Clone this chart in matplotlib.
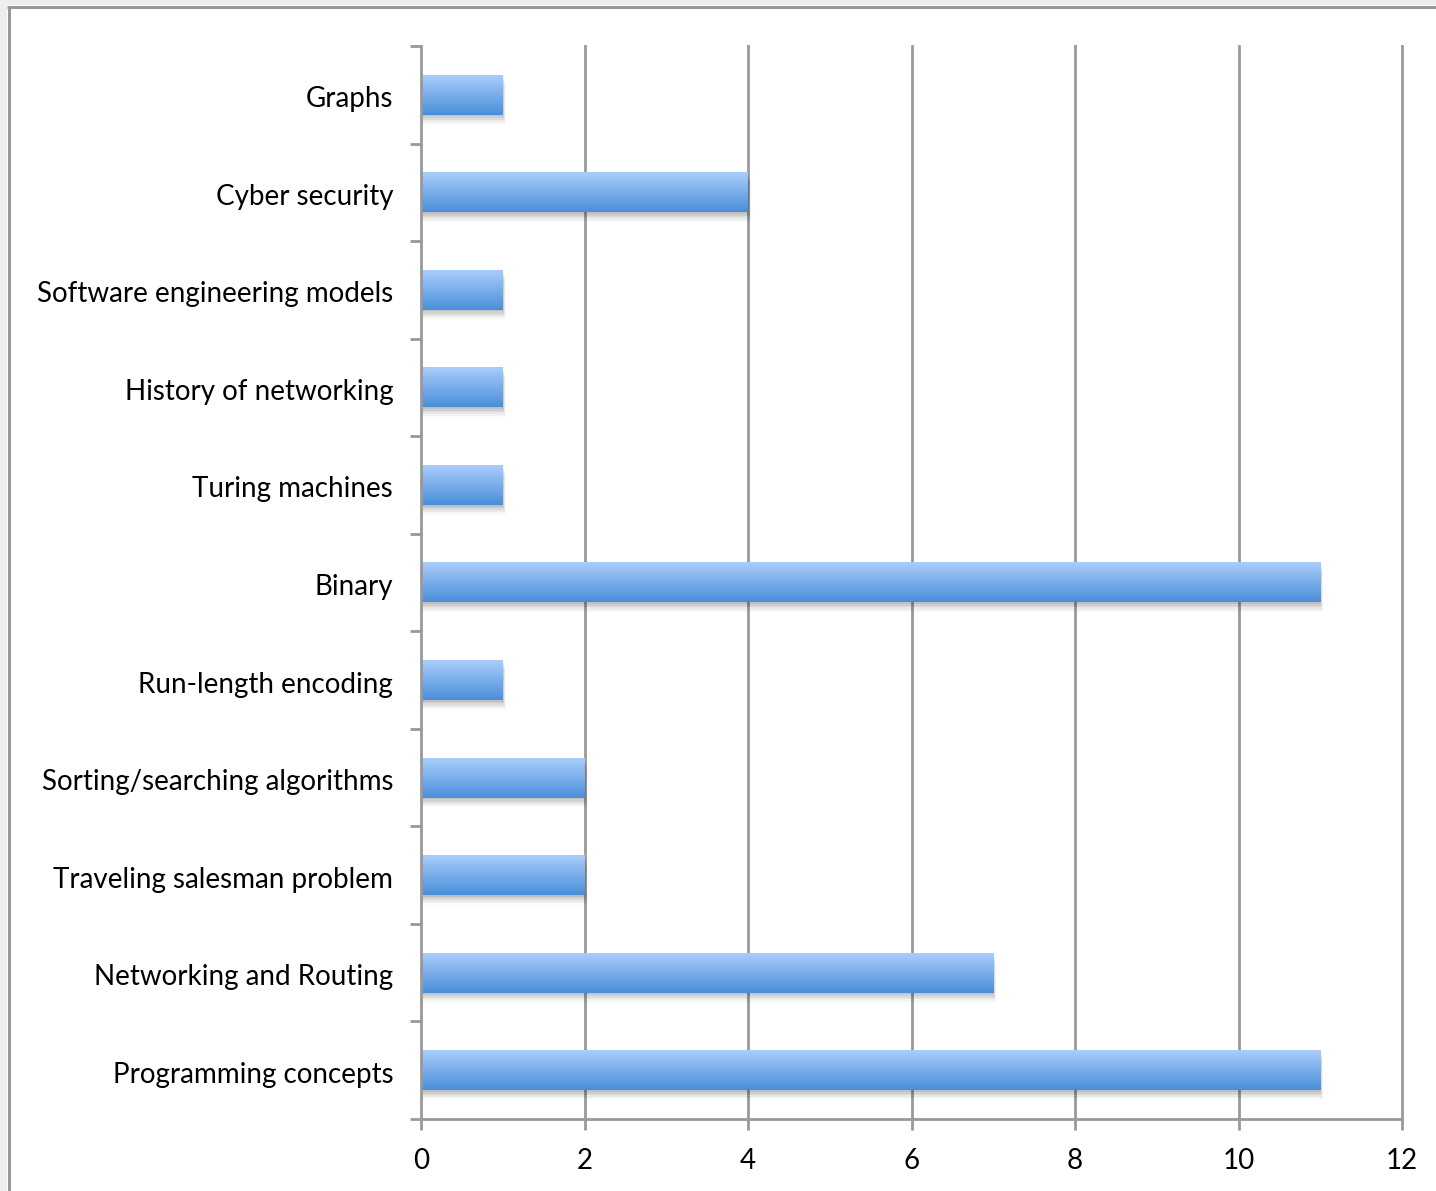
import matplotlib
matplotlib.use("Agg")
import matplotlib.pyplot as plt
import matplotlib.transforms as mtransforms
import numpy as np
from matplotlib.patches import Rectangle
from matplotlib.colors import LinearSegmentedColormap

# data (top to bottom as in the chart)
topics = [
    "Graphs",
    "Cyber security",
    "Software engineering models",
    "History of networking",
    "Turing machines",
    "Binary",
    "Run-length encoding",
    "Sorting/searching algorithms",
    "Traveling salesman problem",
    "Networking and Routing",
    "Programming concepts",
]
counts = [1, 4, 1, 1, 1, 11, 1, 2, 2, 7, 11]
x_ticks = [0, 2, 4, 6, 8, 10, 12]

GRID = "#999999"
BAR_H = 0.41
LW = 2.0

plt.rcParams["font.family"] = ["Lato", "DejaVu Sans"]

fig = plt.figure(figsize=(14.36, 11.91), dpi=100)
fig.patch.set_facecolor("#eeeeee")

# white chart area with grey border on top/left, drawn in a background axes
bg = fig.add_axes([0, 0, 1, 1], zorder=-1)
bg.set_xlim(0, 1436)
bg.set_ylim(1191, 0)
bg.axis("off")
bg.add_patch(Rectangle((7, 5), 1440, 1200, facecolor="white", edgecolor="none"))
bg.plot([8.5, 8.5], [6.5, 1200], color=GRID, linewidth=2.2, solid_capstyle="butt")
bg.plot([7, 1440], [6.5, 6.5], color=GRID, linewidth=2.2, solid_capstyle="butt")

ax = fig.add_axes([421 / 1436, 1 - 1119 / 1191, (1402 - 421) / 1436, (1119 - 46) / 1191])
ax.set_facecolor("none")

n = len(topics)
ypos = np.arange(n)[::-1]  # first topic at the top

cmap = LinearSegmentedColormap.from_list("bar", ["#4a8fda", "#a9cdfb"])
grad = np.linspace(0, 1, 64).reshape(-1, 1)

for y, v in zip(ypos, counts):
    # soft shadow, offset down and to the right
    for k, a in enumerate([0.07, 0.06, 0.05, 0.04, 0.03, 0.02]):
        off = 0.014 * (k + 1)
        ax.add_patch(Rectangle((0, y - BAR_H / 2 - off * 1.2), v + off * 0.45, BAR_H,
                               facecolor="black", edgecolor="none", alpha=a, zorder=2))
    ax.add_patch(Rectangle((0, y - BAR_H / 2), v, BAR_H, facecolor="white", edgecolor="none", zorder=3))
    ax.imshow(grad, cmap=cmap, aspect="auto", origin="lower", interpolation="bicubic",
              extent=(0, v, y - BAR_H / 2, y + BAR_H / 2), zorder=4)

ax.set_xlim(0, 12)
ax.set_ylim(-0.5, n - 0.5)

for t in x_ticks[1:]:
    ax.axvline(t, color=GRID, linewidth=LW, zorder=1, clip_on=False)

ax.set_xticks(x_ticks)
ax.set_xticklabels([str(t) for t in x_ticks])
ax.set_yticks(ypos)
ax.set_yticklabels(topics)
ax.set_yticks(np.arange(-0.5, n, 1.0), minor=True)

ax.tick_params(axis="x", direction="out", length=8, width=LW, color=GRID, labelsize=20, pad=13)
ax.tick_params(axis="y", which="major", length=0, labelsize=20, pad=20)
ax.tick_params(axis="y", which="minor", direction="out", length=8, width=LW, color=GRID)

# nudge category labels down a couple of pixels
shift = mtransforms.ScaledTranslation(0, -2 / 100, fig.dpi_scale_trans)
for lbl in ax.get_yticklabels():
    lbl.set_transform(lbl.get_transform() + shift)

for side in ("top", "right"):
    ax.spines[side].set_visible(False)
for side in ("left", "bottom"):
    ax.spines[side].set_color(GRID)
    ax.spines[side].set_linewidth(LW)
    ax.spines[side].set_zorder(5)

fig.savefig("out.png", dpi=100, facecolor=fig.get_facecolor())
